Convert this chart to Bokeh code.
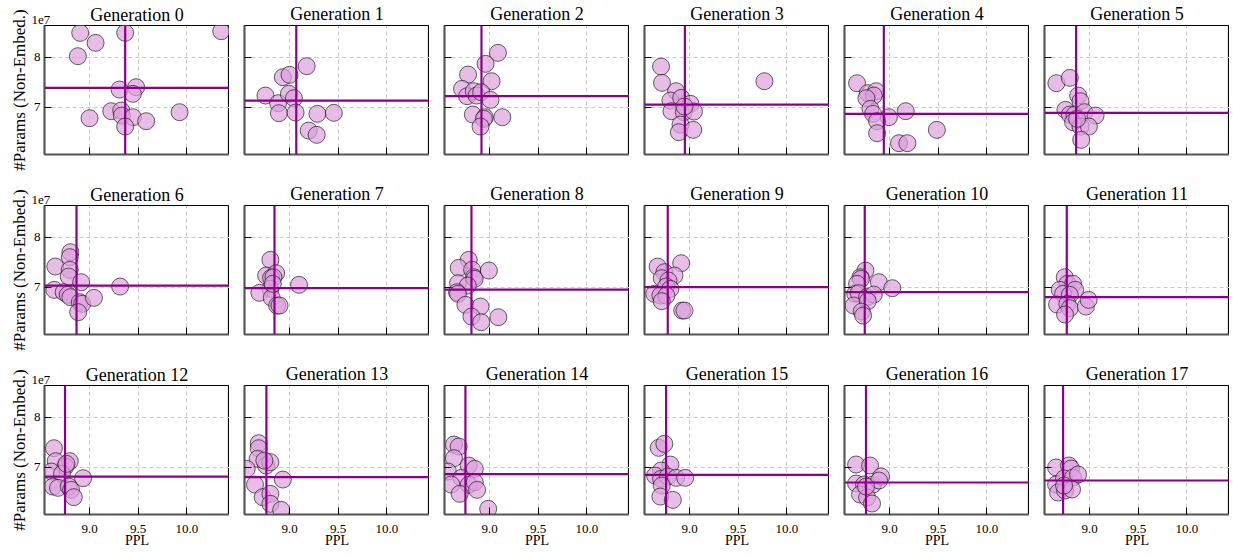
from bokeh.plotting import figure
from bokeh.layouts import column, row
from bokeh.models import Range1d, FixedTicker, PrintfTickFormatter, CustomJSTickFormatter, Span, Title
from bokeh.embed import file_html
from bokeh.resources import INLINE

FONT = "Liberation Serif"

# ---- data (PPL, #Params in units of 1e7) ----
ppl_g0 = [8.904, 9.366, 10.353, 9.062, 8.880, 9.308, 9.479, 9.445, 9.223, 9.325, 9.332, 9.445, 9.366, 9.0, 9.582, 9.925]
par_g0 = [8.487, 8.487, 8.52, 8.287, 8.02, 7.353, 7.40, 7.267, 6.92, 6.933, 6.833, 6.80, 6.613, 6.78, 6.72, 6.90]
ppl_g1 = [8.752, 8.883, 8.890, 8.993, 9.045, 8.931, 9.0, 9.176, 9.062, 9.286, 9.455, 9.197, 9.279]
par_g1 = [7.233, 7.08, 6.88, 7.267, 7.18, 7.60, 7.647, 7.82, 6.893, 6.867, 6.887, 6.533, 6.447]
ppl_g2 = [9.086, 8.959, 8.779, 9.021, 8.717, 8.769, 8.838, 8.866, 8.914, 9.010, 8.828, 8.952, 8.941, 9.131, 8.907]
par_g2 = [8.087, 7.867, 7.653, 7.52, 7.367, 7.22, 7.32, 7.233, 7.30, 7.147, 6.853, 6.80, 6.767, 6.80, 6.613]
ppl_g3 = [8.707, 8.717, 8.862, 8.803, 8.914, 9.010, 8.814, 8.941, 9.045, 8.907, 8.890, 9.038, 9.769, 8.948]
par_g3 = [7.813, 7.487, 7.32, 7.133, 7.187, 7.067, 6.92, 6.90, 6.913, 6.653, 6.50, 6.547, 7.52, 7.013]
ppl_g4 = [8.666, 8.776, 8.862, 8.838, 8.762, 8.803, 8.831, 8.993, 9.166, 8.872, 8.872, 9.097, 9.183, 9.486]
par_g4 = [7.48, 7.28, 7.32, 7.233, 7.18, 6.967, 6.867, 6.80, 6.92, 6.72, 6.48, 6.28, 6.28, 6.547]
ppl_g5 = [8.659, 8.797, 8.883, 8.907, 8.752, 8.797, 8.845, 8.948, 9.062, 8.831, 8.907, 8.993, 8.914, 8.872]
par_g5 = [7.48, 7.587, 7.233, 7.12, 6.947, 6.853, 6.847, 6.90, 6.833, 6.70, 6.613, 6.613, 6.347, 6.767]
ppl_g6 = [8.648, 8.803, 8.797, 8.797, 8.786, 8.914, 8.638, 8.734, 8.776, 8.803, 8.9, 8.924, 9.045, 8.883, 9.314]
par_g6 = [7.413, 7.70, 7.60, 7.347, 7.213, 7.10, 6.947, 6.90, 6.847, 6.80, 6.70, 6.667, 6.787, 6.50, 7.013]
ppl_g7 = [8.803, 8.759, 8.862, 8.810, 8.834, 8.803, 8.690, 8.817, 8.872, 8.897, 9.097, 8.828]
par_g7 = [7.547, 7.233, 7.28, 7.187, 7.20, 6.967, 6.887, 6.787, 6.633, 6.633, 7.047, 7.067]
ppl_g8 = [8.786, 8.683, 8.821, 8.838, 8.848, 8.993, 8.676, 8.776, 8.666, 8.676, 8.752, 8.907, 8.814, 8.914, 9.090]
par_g8 = [7.547, 7.387, 7.347, 7.20, 7.167, 7.333, 7.08, 7.033, 6.90, 6.867, 6.647, 6.613, 6.413, 6.30, 6.40]
ppl_g9 = [8.672, 8.914, 8.741, 8.714, 8.845, 8.783, 8.759, 8.803, 8.638, 8.700, 8.762, 8.714, 8.924, 8.948]
par_g9 = [7.413, 7.48, 7.30, 7.18, 7.233, 7.133, 7.013, 6.967, 6.867, 6.833, 6.833, 6.72, 6.533, 6.533]
ppl_g10 = [8.752, 8.7, 8.707, 8.666, 8.890, 9.028, 8.648, 8.683, 8.769, 8.838, 8.631, 8.776, 8.714, 8.728]
par_g10 = [7.333, 7.20, 7.167, 7.067, 7.10, 6.98, 6.867, 6.88, 6.80, 6.853, 6.633, 6.72, 6.513, 6.433]
ppl_g11 = [8.745, 8.772, 8.831, 8.852, 8.693, 8.728, 8.797, 8.666, 8.772, 8.797, 8.748, 8.962, 8.990]
par_g11 = [7.20, 7.067, 7.067, 6.947, 6.947, 6.867, 6.847, 6.653, 6.667, 6.58, 6.453, 6.613, 6.747]
ppl_g12 = [8.634, 8.652, 8.797, 8.752, 8.607, 8.717, 8.934, 8.624, 8.676, 8.786, 8.810, 8.838, 8.762]
par_g12 = [7.38, 7.12, 7.12, 7.013, 6.913, 6.867, 6.78, 6.613, 6.587, 6.613, 6.547, 6.40, 7.067]
ppl_g13 = [8.683, 8.683, 8.672, 8.560, 8.759, 8.803, 8.645, 8.931, 8.724, 8.803, 8.803, 8.914, 8.741]
par_g13 = [7.48, 7.38, 7.167, 6.967, 7.033, 7.10, 6.653, 6.753, 6.40, 6.467, 6.267, 6.147, 7.133]
ppl_g14 = [8.634, 8.683, 8.634, 8.786, 8.848, 8.572, 8.710, 8.607, 8.786, 8.848, 8.693, 8.872, 8.986]
par_g14 = [7.453, 7.413, 7.18, 7.033, 6.967, 6.913, 6.787, 6.653, 6.647, 6.70, 6.467, 6.547, 6.167]
ppl_g15 = [8.683, 8.741, 8.803, 8.707, 8.645, 8.707, 8.776, 8.862, 8.955, 8.714, 8.700, 8.828]
par_g15 = [7.387, 7.467, 7.053, 6.933, 6.833, 6.767, 6.813, 6.787, 6.787, 6.633, 6.413, 6.347]
ppl_g16 = [8.656, 8.80, 8.656, 8.738, 8.83, 8.913, 8.892, 8.697, 8.769, 8.82, 8.758]
par_g16 = [7.054, 7.034, 6.674, 6.654, 6.654, 6.814, 6.734, 6.454, 6.394, 6.274, 6.614]
ppl_g17 = [8.656, 8.789, 8.81, 8.656, 8.738, 8.83, 8.882, 8.676, 8.748, 8.82, 8.738]
par_g17 = [6.994, 7.034, 6.974, 6.654, 6.774, 6.794, 6.854, 6.494, 6.534, 6.554, 6.634]

# mean lines
mean_ppl = [9.366, 9.069, 8.917, 8.952, 8.941, 8.862, 8.866, 8.845, 8.814,
            8.776, 8.745, 8.766, 8.748, 8.762, 8.752, 8.759, 8.758, 8.728]
mean_params = [7.387, 7.133, 7.22, 7.053, 6.867, 6.887, 7.033, 6.98, 6.953,
               7.0, 6.90, 6.80, 6.813, 6.80, 6.86, 6.847, 6.694, 6.734]

titles = ["Generation %d" % i for i in range(18)]
x_ticks = [9.0, 9.5, 10.0]
y_ticks = [7, 8]
x_label = "PPL"
y_label = "#Params (Non-Embed.)"
offset_text = "1e7"

ppl_all = [ppl_g0, ppl_g1, ppl_g2, ppl_g3, ppl_g4, ppl_g5, ppl_g6, ppl_g7, ppl_g8,
           ppl_g9, ppl_g10, ppl_g11, ppl_g12, ppl_g13, ppl_g14, ppl_g15, ppl_g16, ppl_g17]
par_all = [par_g0, par_g1, par_g2, par_g3, par_g4, par_g5, par_g6, par_g7, par_g8,
           par_g9, par_g10, par_g11, par_g12, par_g13, par_g14, par_g15, par_g16, par_g17]

X0, X1 = 8.537, 10.438
Y0, Y1 = 6.054, 8.634
LINE_COLOR = "#8B008B"

rows = []
for r in range(3):
    figs = []
    for c in range(6):
        i = r * 6 + c
        top = 25
        bottom = 26 if r < 2 else 36
        left = 44 if c == 0 else 15
        p = figure(frame_width=185, frame_height=129,
                   x_range=Range1d(X0, X1), y_range=Range1d(Y0, Y1),
                   output_backend="svg", toolbar_location=None,
                   min_border_left=left, min_border_right=0,
                   min_border_top=top, min_border_bottom=bottom)
        p.background_fill_color = "white"
        p.border_fill_color = "white"
        p.outline_line_color = "black"
        p.outline_line_width = 1.2

        p.xaxis.ticker = FixedTicker(ticks=x_ticks)
        p.yaxis.ticker = FixedTicker(ticks=y_ticks)
        if r == 2:
            p.xaxis.formatter = PrintfTickFormatter(format="%.1f")
            p.xaxis.axis_label = x_label
        else:
            p.xaxis.formatter = CustomJSTickFormatter(code="return ''")
        if c == 0:
            p.yaxis.formatter = PrintfTickFormatter(format="%d")
            p.yaxis.axis_label = y_label
        else:
            p.yaxis.formatter = CustomJSTickFormatter(code="return ''")

        for ax in (p.xaxis[0], p.yaxis[0]):
            ax.major_tick_in = 7
            ax.major_tick_out = 0
            ax.minor_tick_in = 0
            ax.minor_tick_out = 0
            ax.major_tick_line_color = "black"
            ax.major_tick_line_width = 1
            ax.axis_line_color = "#555555"
            ax.axis_line_width = 2
            ax.major_label_text_font = FONT
            ax.major_label_text_font_size = "13px"
            ax.major_label_text_color = "black"
            ax.major_label_standoff = 4
            ax.axis_label_text_font = FONT
            ax.axis_label_text_font_style = "normal"
            ax.axis_label_text_color = "black"
            ax.axis_label_standoff = 2
        p.xaxis.major_label_standoff = 10
        p.xaxis.axis_label_standoff = -3
        p.xaxis.axis_label_text_font_size = "14px"
        p.yaxis.axis_label_text_font_size = "17px"

        for g in (p.xgrid[0], p.ygrid[0]):
            g.grid_line_color = "#c8c8c8"
            g.grid_line_dash = "4 3"
            g.grid_line_width = 1

        p.scatter(ppl_all[i], par_all[i], size=17, fill_color="#DDA0DD", fill_alpha=0.7,
                  line_color="black", line_alpha=0.6, line_width=1)

        p.add_layout(Span(location=mean_ppl[i], dimension="height",
                          line_color=LINE_COLOR, line_width=2.2))
        p.add_layout(Span(location=mean_params[i], dimension="width",
                          line_color=LINE_COLOR, line_width=2.2))

        if c == 0:
            # offset text "1e7" sits directly on the frame; the title is pulled down beside it
            p.add_layout(Title(text=offset_text, align="left", offset=-13, standoff=4,
                               text_font=FONT, text_font_size="13px",
                               text_font_style="normal", text_color="black"), "above")
            p.add_layout(Title(text=titles[i], align="center", standoff=-26,
                               text_font=FONT, text_font_size="18px",
                               text_font_style="normal", text_color="black"), "above")
        else:
            p.add_layout(Title(text=titles[i], align="center", standoff=3,
                               text_font=FONT, text_font_size="18px",
                               text_font_style="normal", text_color="black"), "above")
        figs.append(p)
    rows.append(row(*figs))

layout = column(*rows)
open("out.html", "w").write(file_html(layout, INLINE))
